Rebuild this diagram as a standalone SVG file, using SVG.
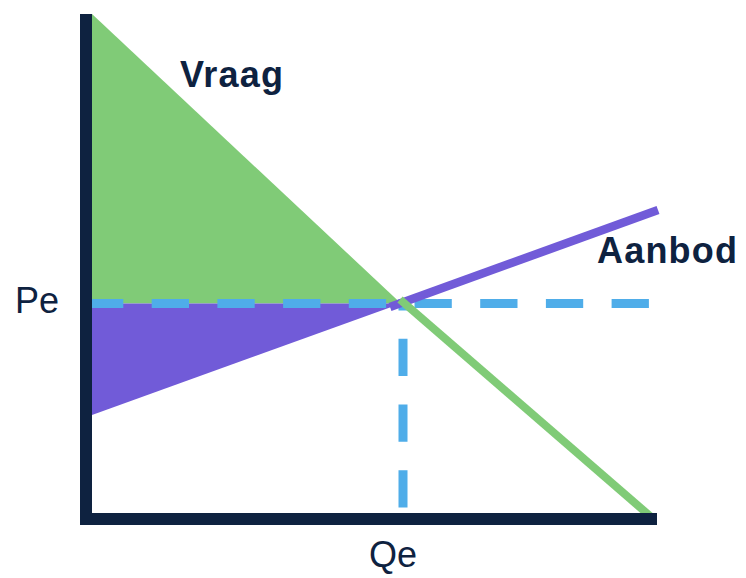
<svg xmlns="http://www.w3.org/2000/svg" width="746" height="578" viewBox="0 0 746 578">
<style>
.lbl{font-family:"Liberation Sans",Arial,sans-serif;font-size:36px;fill:#0E2240}
.b{font-weight:bold}
.dash{stroke:#4FADE9;stroke-width:9;fill:none;stroke-dasharray:37.3 28.4}
.axis{fill:#0E2240}
</style>
<rect width="746" height="578" fill="#ffffff"/>
<g id="consumer-surplus"><polygon points="92,14 401,303.5 92,303.5" fill="#80CB77"/></g>
<g id="producer-surplus"><polygon points="92,303.5 401,303.5 92,415" fill="#715BD8"/></g>
<g id="connectors">
<line class="dash" x1="86" y1="303.5" x2="649" y2="303.5"/>
<line class="dash" x1="403" y1="507.5" x2="403" y2="299"/>
<line x1="390" y1="307" x2="658" y2="210" stroke="#715BD8" stroke-width="8.5"/>
<line x1="400" y1="299.5" x2="650" y2="516" stroke="#80CB77" stroke-width="8"/>
</g>
<g id="axes">
<rect class="axis" x="80" y="14" width="12" height="511"/>
<rect class="axis" x="80" y="513" width="577" height="12"/>
</g>
<g id="vraag"><text class="lbl b" x="180" y="87" textLength="103" lengthAdjust="spacing">Vraag</text></g>
<g id="aanbod"><text class="lbl b" x="597" y="263" textLength="140" lengthAdjust="spacing">Aanbod</text></g>
<g id="pe"><text class="lbl" x="15" y="313">Pe</text></g>
<g id="qe"><text class="lbl" x="369" y="567">Qe</text></g>
</svg>
